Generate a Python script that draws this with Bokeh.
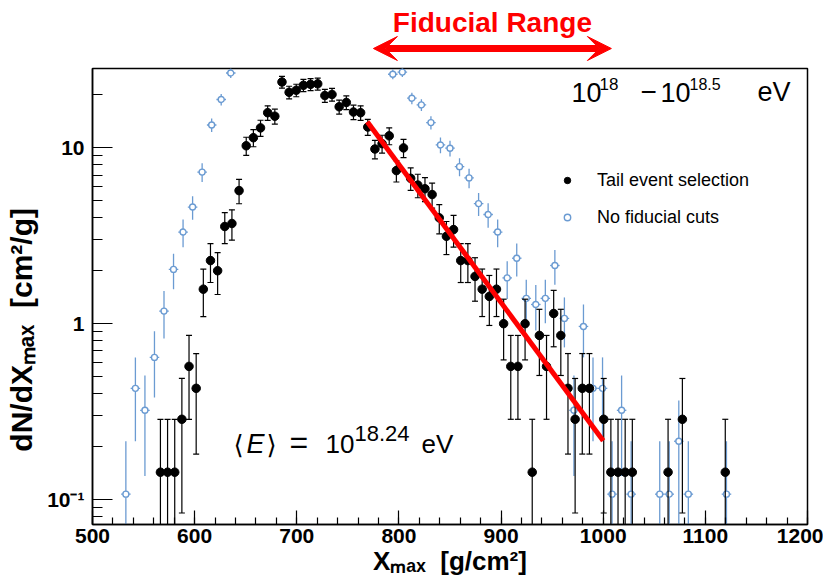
import numpy as np
from bokeh.plotting import figure
from bokeh.layouts import column
from bokeh.models import (FixedTicker, SingleIntervalTicker, Label, Arrow, VeeHead,
                          Legend, LegendItem)
from bokeh.embed import file_html
from bokeh.resources import INLINE

# ------------------------------------------------------------------ data
X_RANGE = (500, 1200)
Y_RANGE = (0.072, 28.3)

# Tail event selection: 100 bins of 7 g/cm^2 on [500, 1200]
tail_bin_width = 7.0
tail_bin_index = [9, 10, 11, 12, 13, 14, 15, 16, 17, 18, 19, 20, 21, 22, 23, 24, 25,
                  26, 27, 28, 29, 30, 31, 32, 33, 34, 35, 36, 37, 38, 39, 40, 41, 42,
                  43, 44, 45, 46, 47, 48, 49, 50, 51, 52, 53, 54, 55, 56, 57, 58, 59,
                  60, 61, 62, 63, 64, 65, 66, 67, 68, 69, 71, 72, 73, 74, 75, 80, 82, 88]
tail_counts = [1, 1, 1, 2, 4, 3, 11, 16, 14, 25, 26, 40, 72, 80, 91, 111, 106,
               166, 145, 149, 159, 161, 162, 139, 141, 120, 127, 112, 111, 92, 69, 74, 82, 52,
               70, 47, 43, 41, 38, 28, 22, 24, 16, 16, 13, 11, 10, 11, 7, 4, 4,
               7, 1, 6, 4, 8, 6, 3, 2, 3, 3, 2, 1, 1, 1, 1, 1, 2, 1]

# No fiducial cuts: 75 bins on [500, 1200] (bins 15-30 lie above the frame)
all_bin_width = 700.0 / 75
all_bin_index = [3, 4, 5, 6, 7, 8, 9, 10, 11, 12, 13, 14,
                 31, 32, 33, 34, 35, 36, 37, 38, 39, 40, 41, 42, 43, 44, 45, 46, 47,
                 48, 49, 50, 51, 52, 53, 54, 55, 56, 59, 60, 61, 62, 66]
all_counts = [1, 4, 3, 6, 11, 19, 31, 43, 68, 126, 176, 249,
              245, 252, 179, 164, 130, 97, 93, 73, 63, 45, 39, 31, 17, 22, 13, 12, 13,
              20, 10, 3, 9, 4, 4, 1, 3, 1, 1, 1, 2, 1, 1]

# exponential tail fit (end points)
fit_xmax = [769, 1000]
fit_dndx = [14.1, 0.216]

# fiducial Xmax range shown by the arrow
fiducial_range = [775, 1008]

x_major_step = 100
y_major_ticks = [0.1, 1, 10]
y_tick_labels = ["10\u207b\u00b9", "1", "10"]
legend_labels = ["Tail event selection", "No fiducial cuts"]

# ------------------------------------------------------------------ helpers
def hist_points(idx, counts, width):
    idx = np.asarray(idx, float)
    n = np.asarray(counts, float)
    x = X_RANGE[0] + width * (idx + 0.5)
    y = n / width
    e = np.sqrt(n) / width
    lo = y - e
    has_lo = lo > 0
    lo_draw = np.where(has_lo, lo, 1e-4)
    return x, y, lo_draw, y + e, has_lo

BLUE = "#6b9bd2"
RED = "#ff0000"
W, H = 823, 581
F_LEFT, F_RIGHT, F_TOP, F_BOTTOM = 92, 807, 68, 524
HDR_H = 66                       # header strip (arrow + title)
MAIN_H = H - HDR_H
TOP_PAD = F_TOP - HDR_H
MID = 0.35                       # cap centre above baseline, in em

# ------------------------------------------------------------------ main plot
p = figure(width=W, height=MAIN_H, x_range=X_RANGE, y_range=Y_RANGE, y_axis_type="log",
           output_backend="svg", toolbar_location=None, title=None,
           min_border_left=F_LEFT, min_border_right=W - F_RIGHT,
           min_border_top=TOP_PAD, min_border_bottom=H - F_BOTTOM)
p.xgrid.visible = False
p.ygrid.visible = False
p.outline_line_color = "black"
p.outline_line_width = 1.5
p.background_fill_color = "white"
p.border_fill_color = "white"

p.xaxis.ticker = SingleIntervalTicker(interval=x_major_step, num_minor_ticks=5)
minor = [m * d for d in (0.01, 0.1, 1, 10) for m in range(2, 10)]
p.yaxis.ticker = FixedTicker(ticks=y_major_ticks, minor_ticks=minor)
p.yaxis.major_label_overrides = dict(zip(y_major_ticks, y_tick_labels))
for ax in (p.xaxis[0], p.yaxis[0]):
    ax.major_tick_out = 0
    ax.minor_tick_out = 0
    ax.axis_line_width = 1.5
    ax.major_tick_line_width = 1.2
    ax.minor_tick_line_width = 1.2
    ax.major_label_text_font = "Liberation Sans"
    ax.major_label_text_font_style = "bold"
    ax.major_label_text_color = "black"
    ax.major_label_text_font_size = "21px"
    ax.axis_label_text_font = "Liberation Sans"
    ax.axis_label_text_font_style = "bold"
    ax.axis_label_text_color = "black"
p.xaxis.major_tick_in = 14
p.xaxis.minor_tick_in = 7
p.yaxis.major_tick_in = 20
p.yaxis.minor_tick_in = 10
p.xaxis.major_label_standoff = 4
p.yaxis.major_label_standoff = 8

NB = "\u00a0"
p.xaxis.axis_label = "X\u2098\u2090\u2093" + NB + NB + "[g/cm\u00b2]"
p.xaxis.axis_label_text_font_size = "26px"
p.xaxis.axis_label_standoff = 0
p.yaxis.axis_label = "dN/dX\u2098\u2090\u2093" + NB + NB + "[cm\u00b2/g]" + NB * 8
p.yaxis.axis_label_text_font_size = "30px"
p.yaxis.axis_label_standoff = 6

# no-fiducial-cut histogram
bx, by, blo, bhi, bhas = hist_points(all_bin_index, all_counts, all_bin_width)
p.segment(bx, blo, bx, bhi, line_color=BLUE, line_width=1.3)
p.segment(bx - all_bin_width / 2, by, bx + all_bin_width / 2, by, line_color=BLUE, line_width=1.3)
r_all = p.scatter(bx, by, marker="circle", size=6, fill_color="white", line_color=BLUE,
                  line_width=1.4)

# tail selection histogram
tx, ty, tlo, thi, thas = hist_points(tail_bin_index, tail_counts, tail_bin_width)
p.segment(tx, tlo, tx, thi, line_color="black", line_width=1.2)
p.scatter(tx, thi, marker="dash", size=6, line_color="black", line_width=1.2)
p.scatter(tx[thas], tlo[thas], marker="dash", size=6, line_color="black", line_width=1.2)
r_tail = p.scatter(tx, ty, marker="circle", size=8.5, fill_color="black", line_color="black")

# fit
p.line(fit_xmax, fit_dndx, line_color=RED, line_width=5)

legend = Legend(items=[LegendItem(label=legend_labels[0], renderers=[r_tail]),
                       LegendItem(label=legend_labels[1], renderers=[r_all])],
                location=(559 - F_LEFT, F_BOTTOM - 228), orientation="vertical",
                padding=0, margin=0, spacing=15, glyph_width=16, glyph_height=22,
                label_height=22, label_standoff=22, border_line_alpha=0,
                background_fill_alpha=0, label_text_font="Liberation Sans",
                label_text_font_size="18px", label_text_color="black")
p.add_layout(legend)

def txt(text, cx, base, size, style="normal", font="Liberation Sans"):
    """place text by its left edge and baseline, given in page pixels"""
    p.add_layout(Label(x=cx - F_LEFT, y=F_BOTTOM - (base - MID * size),
                       x_units="screen", y_units="screen",
                       text=text, text_font=font, text_font_size=f"{size}px",
                       text_font_style=style, text_color="black",
                       text_align="left", text_baseline="middle"))

# energy range
txt("10", 571, 101, 27)
txt("18", 599, 89, 17)
txt("\u2212", 640, 101, 28)
txt("10", 660, 101, 27)
txt("18.5", 689, 89, 16)
txt("eV", 757, 101, 27)

# mean energy
txt("\u27e8", 233, 454, 26, font="DejaVu Sans")
txt("E", 246, 453, 27, style="italic")
txt("\u27e9", 266, 454, 26, font="DejaVu Sans")
txt("=", 289, 453, 32)
txt("10", 325, 453, 26)
txt("18.24", 354, 441, 22)
txt("eV", 421, 453, 26)

# ------------------------------------------------------------------ header strip
hdr = figure(frame_width=F_RIGHT - F_LEFT, frame_height=HDR_H, x_range=p.x_range,
             y_range=(0, HDR_H), output_backend="svg", toolbar_location=None, title=None,
             min_border_left=F_LEFT, min_border_right=W - F_RIGHT,
             min_border_top=0, min_border_bottom=0,
             x_axis_location=None, y_axis_location=None)
hdr.xgrid.visible = False
hdr.ygrid.visible = False
hdr.outline_line_color = None
hdr.background_fill_color = "white"
hdr.border_fill_color = "white"

head = dict(size=24, fill_color=RED, line_color=RED, line_width=1)
hdr.add_layout(Arrow(start=VeeHead(**head), end=VeeHead(**head),
                     x_start=fiducial_range[0], y_start=HDR_H - 48,
                     x_end=fiducial_range[1], y_end=HDR_H - 48,
                     start_units="data", end_units="data",
                     line_color=RED, line_width=7))
TITLE_SIZE = 28
hdr.add_layout(Label(x=sum(fiducial_range) / 2, y=HDR_H - (32 - MID * TITLE_SIZE),
                     text="Fiducial Range",
                     text_font="Liberation Sans", text_font_style="bold",
                     text_font_size=f"{TITLE_SIZE}px", text_color=RED, text_align="center",
                     text_baseline="middle"))

layout = column(hdr, p, spacing=0)
open("out.html", "w").write(file_html(layout, INLINE))
